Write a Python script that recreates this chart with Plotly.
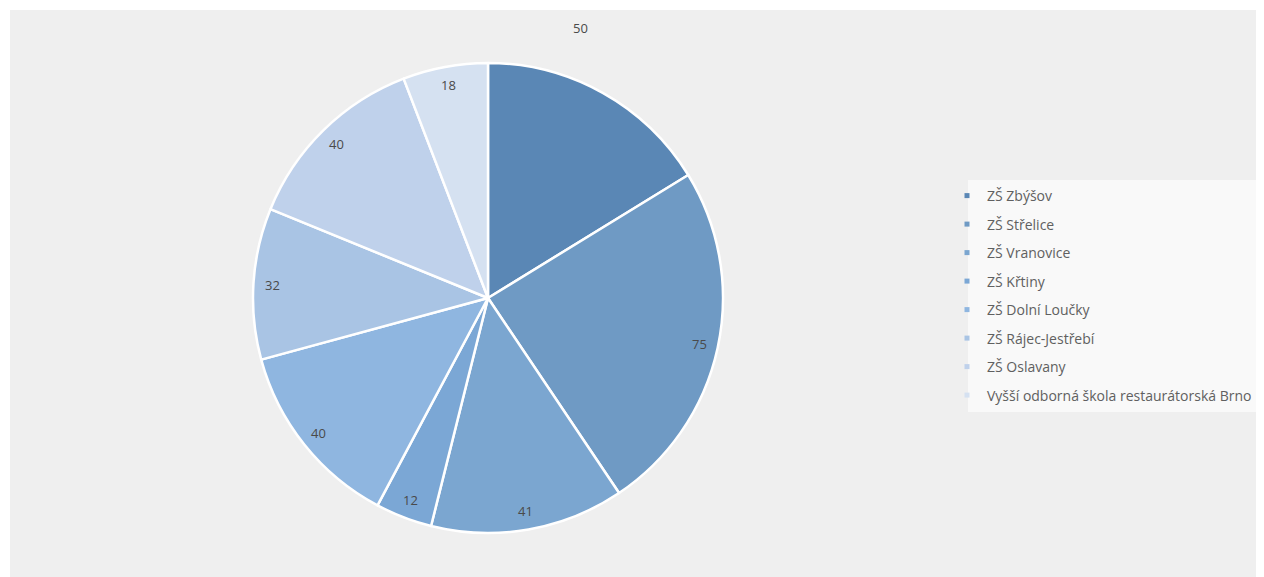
import math
import plotly.graph_objects as go

labels = ["ZŠ Zbýšov", "ZŠ Střelice", "ZŠ Vranovice", "ZŠ Křtiny", "ZŠ Dolní Loučky",
          "ZŠ Rájec-Jestřebí", "ZŠ Oslavany", "Vyšší odborná škola restaurátorská Brno"]
values = [50, 75, 41, 12, 40, 32, 40, 18]
colors = ["#5a87b5", "#6f9ac4", "#7ba6d0", "#7ba7d5", "#8fb6e0", "#a9c4e4", "#bfd1eb", "#d5e1f1"]

O = 8                      # page body offset in the browser
W, H = 1264 - O, 577 - O   # figure size
cx, cy, R = 488, 298, 235  # pie centre / radius in page pixels


def fx(px):
    return (px - O) / W


def fy(py):
    return 1 - (py - O) / H


fig = go.Figure()
fig.add_trace(go.Pie(
    labels=labels, values=values, sort=False, direction="clockwise", rotation=0,
    marker=dict(colors=colors, line=dict(color="white", width=2.5)),
    textinfo="none", hoverinfo="label+value", showlegend=False,
    domain=dict(x=[fx(cx - R), fx(cx + R)], y=[fy(cy + R), fy(cy - R)]),
))

# legend via dummy traces (for spacing control)
for lab, col in zip(labels, colors):
    fig.add_trace(go.Scatter(x=[None], y=[None], mode="markers", name=lab, legendgroup=lab,
                             marker=dict(symbol="square", size=5, color=col)))

# data labels
annotations = []
total = sum(values)
cum = 0
for i, v in enumerate(values):
    mid = (cum + v / 2) / total * 2 * math.pi
    cum += v
    if i == 0:
        px, py = 580, 28
    else:
        rr = 0.92 * R
        px = cx + rr * math.sin(mid)
        py = cy - rr * math.cos(mid)
    annotations.append(dict(x=fx(px), y=fy(py), xref="paper", yref="paper", text=str(v),
                            showarrow=False, font=dict(size=13, color="#4a4a4a"),
                            xanchor="center", yanchor="middle"))

fig.update_layout(
    width=W, height=H, margin=dict(l=0, r=0, t=0, b=0),
    paper_bgcolor="white", plot_bgcolor="rgba(0,0,0,0)",
    font=dict(family="Open Sans, Liberation Sans, sans-serif", size=11, color="#595959"),
    xaxis=dict(visible=False), yaxis=dict(visible=False),
    shapes=[
        dict(type="rect", xref="paper", yref="paper", x0=fx(10), x1=1, y0=0, y1=fy(10),
             fillcolor="#efefef", line=dict(width=0), layer="below"),
        dict(type="rect", xref="paper", yref="paper", x0=fx(968), x1=1, y0=fy(412), y1=fy(180),
             fillcolor="#f9f9f9", line=dict(width=0), layer="below"),
    ],
    legend=dict(x=fx(947), y=fy(180), xanchor="left", yanchor="top", bgcolor="rgba(0,0,0,0)",
                tracegroupgap=7.3, font=dict(size=14, color="#606060"), itemclick=False),
    annotations=annotations,
)

fig.write_html("out.html")
